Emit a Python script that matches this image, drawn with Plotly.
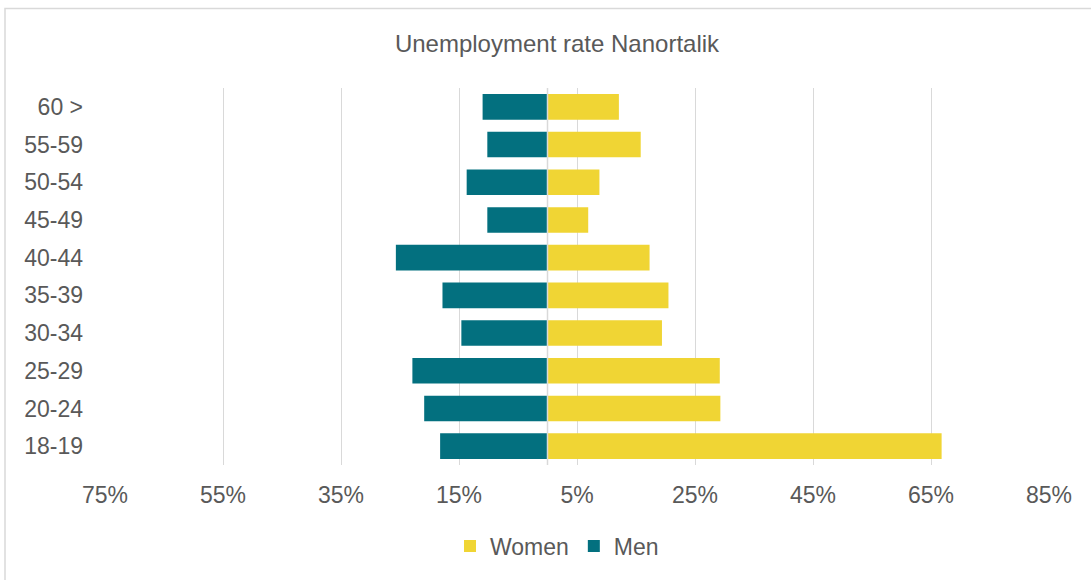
import plotly.graph_objects as go

# Data
categories = ["18-19", "20-24", "25-29", "30-34", "35-39", "40-44", "45-49", "50-54", "55-59", "60 >"]
women = [66.8, 29.3, 29.2, 19.4, 20.5, 17.3, 6.9, 8.8, 15.8, 12.1]
men = [18.2, 20.9, 22.9, 14.6, 17.8, 25.7, 10.2, 13.7, 10.2, 11.0]
tick_values = [-75, -55, -35, -15, 5, 25, 45, 65, 85]
tick_labels = [f"{abs(v)}%" for v in tick_values]

TEXT = "#595959"
GRID = "#d9d9d9"
FONT = "Liberation Sans, Arial, sans-serif"

fig = go.Figure()
fig.add_trace(go.Bar(
    y=categories, x=women, orientation="h", name="Women",
    marker=dict(color="#F0D534", line=dict(width=0)),
))
fig.add_trace(go.Bar(
    y=categories, x=[-v for v in men], orientation="h", name="Men",
    marker=dict(color="#03707F", line=dict(width=0)),
))

W, H = 1091, 580
L, R, T, B = 105, 42, 88, 113
pw = W - L - R
ph = H - T - B

fig.update_layout(
    width=W, height=H,
    margin=dict(l=L, r=R, t=T, b=B, pad=0),
    paper_bgcolor="white", plot_bgcolor="white",
    barmode="relative", bargap=0.32,
    font=dict(family=FONT, size=23, color=TEXT),
    title=dict(
        text="Unemployment rate Nanortalik",
        font=dict(family=FONT, size=24, color=TEXT),
        x=(557 - L) / pw, xref="paper", xanchor="center",
        y=1 - 44 / H, yref="container", yanchor="middle",
    ),
    xaxis=dict(
        range=[-75, 85], tickvals=tick_values, ticktext=tick_labels,
        showgrid=True, gridcolor=GRID, gridwidth=1,
        zeroline=False, showline=False, ticks="",
        ticklabelstandoff=14,
        tickfont=dict(size=23, color=TEXT), fixedrange=True,
    ),
    yaxis=dict(
        showgrid=False, zeroline=False, showline=False, ticks="",
        ticklabelstandoff=21,
        tickfont=dict(size=23, color=TEXT), fixedrange=True,
    ),
    legend=dict(
        orientation="h", x=(557 - L) / pw, xanchor="center",
        y=-(548.5 - (T + ph)) / ph, yanchor="middle",
        font=dict(size=23, color=TEXT), traceorder="normal",
        itemwidth=30,
    ),
    showlegend=True,
)

# center axis line (above bars)
fig.add_vline(x=0, line=dict(color=GRID, width=1.5), layer="above")

# chart area border (cropped on right / bottom)
fig.add_shape(
    type="rect", xref="paper", yref="paper",
    x0=(5 - L) / pw, x1=1.2, y0=-0.5, y1=(T + ph - 8) / ph,
    line=dict(color=GRID, width=1.5), fillcolor="rgba(0,0,0,0)", layer="below",
)

fig.write_html(
    "out.html",
    config={"displayModeBar": False},
    post_script="document.body.style.margin='0px';document.body.style.padding='0px';",
)
